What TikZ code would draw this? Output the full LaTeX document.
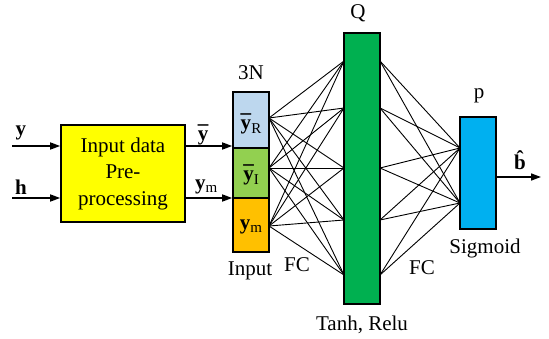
\documentclass[tikz,border=0pt]{standalone}
\usepackage{fontspec}
\setmainfont{Liberation Serif}
\usetikzlibrary{arrows.meta}
\newcommand{\ybar}{\textbf{\accent"00AF y}}
\newcommand{\sub}[1]{\raisebox{-0.35ex}{\fontsize{15}{15}\selectfont #1}}
\begin{document}
\begin{tikzpicture}[x=1pt,y=-1pt,
  lbl/.style={font=\fontsize{21}{25}\selectfont, inner sep=0pt},
  box/.style={draw, line width=1.6pt, inner sep=0pt},
  arr/.style={line width=1.5pt, -{Triangle[length=10pt,width=7pt]}},
  fc/.style={line width=0.9pt}]
\useasboundingbox (0,0) rectangle (549,339);
\definecolor{cyel}{HTML}{FFFF00}
\definecolor{cblue}{HTML}{BDD7EE}
\definecolor{clgreen}{HTML}{92D050}
\definecolor{corange}{HTML}{FFC000}
\definecolor{cgreen}{HTML}{00B050}
\definecolor{csky}{HTML}{00B0F0}
% boxes
\node[box, fill=cyel, minimum width=124pt, minimum height=97pt, align=center, font=\fontsize{21}{26.5}\selectfont] (pre) at (123,173.5) {Input data\\Pre-\\processing};
\node[box, fill=cblue, minimum width=36pt, minimum height=56pt] (inR) at (251,120) {};
\node[box, fill=clgreen, minimum width=36pt, minimum height=50pt] (inI) at (251,173) {};
\node[box, fill=corange, minimum width=36pt, minimum height=54pt] (inM) at (251,225) {};
\node[box, fill=cgreen, minimum width=36pt, minimum height=271pt] (hid) at (362,168.5) {};
\node[box, fill=csky, minimum width=36pt, minimum height=112pt] (out) at (478,173) {};
% labels in input stack
\node[lbl] (lR) at (251,124) {\ybar\sub{R}};
\node[lbl] (lI) at (251,175) {\ybar\sub{I}};
\node[lbl] (lM) at (251,227) {\textbf{y}\sub{m}};
% connection points
\coordinate (i1) at (269,118);
\coordinate (i2) at (269,168);
\coordinate (i3) at (269,226);
\foreach \k/\yy in {1/61,2/108,3/168,4/220,5/275}{
  \coordinate (hl\k) at (344,\yy);
  \coordinate (hr\k) at (380,\yy);
}
\coordinate (o1) at (460,148);
\coordinate (o2) at (460,203);
\foreach \a in {i1,i2,i3}{
  \foreach \b in {hl1,hl2,hl3,hl4,hl5}{
    \draw[fc] (\a) -- (\b);
  }
}
\foreach \a in {hr1,hr2,hr3,hr4,hr5}{
  \foreach \b in {o1,o2}{
    \draw[fc] (\a) -- (\b);
  }
}
% input arrows
\coordinate (yin) at (12,146);
\coordinate (hin) at (12,198);
\draw[arr] (yin) -- (yin -| pre.west);
\draw[arr] (hin) -- (hin -| pre.west);
\node[lbl] (ylab) at (21,133) {\textbf{y}};
\node[lbl] (hlab) at (21,187) {\textbf{h}};
% output of preprocessing
\coordinate (ya) at (185,146);
\coordinate (ma) at (185,198);
\draw[arr] (ya) -- (ya -| inR.west);
\draw[arr] (ma) -- (ma -| inM.west);
\node[lbl] (ybl) at (203,135) {\ybar};
\node[lbl, anchor=west] (yml) at (195,187) {\textbf{y}\sub{m}};
% output arrow
\coordinate (bo) at (541,177);
\draw[arr] (out.east |- bo) -- (bo);
\node[lbl] (bl) at (520,160) {\textbf{\accent"02C6 b}};
% texts
\node[lbl] (t3n) at (251,73) {3N};
\node[lbl] (tin) at (250,271) {Input};
\node[lbl] (tfc1) at (297,265) {FC};
\node[lbl] (tq) at (358,13) {Q};
\node[lbl] (ttr) at (362,325) {Tanh, Relu};
\node[lbl] (tp) at (479,96) {p};
\node[lbl] (tsig) at (485,248) {Sigmoid};
\node[lbl] (tfc2) at (422,268) {FC};
\end{tikzpicture}
\end{document}
